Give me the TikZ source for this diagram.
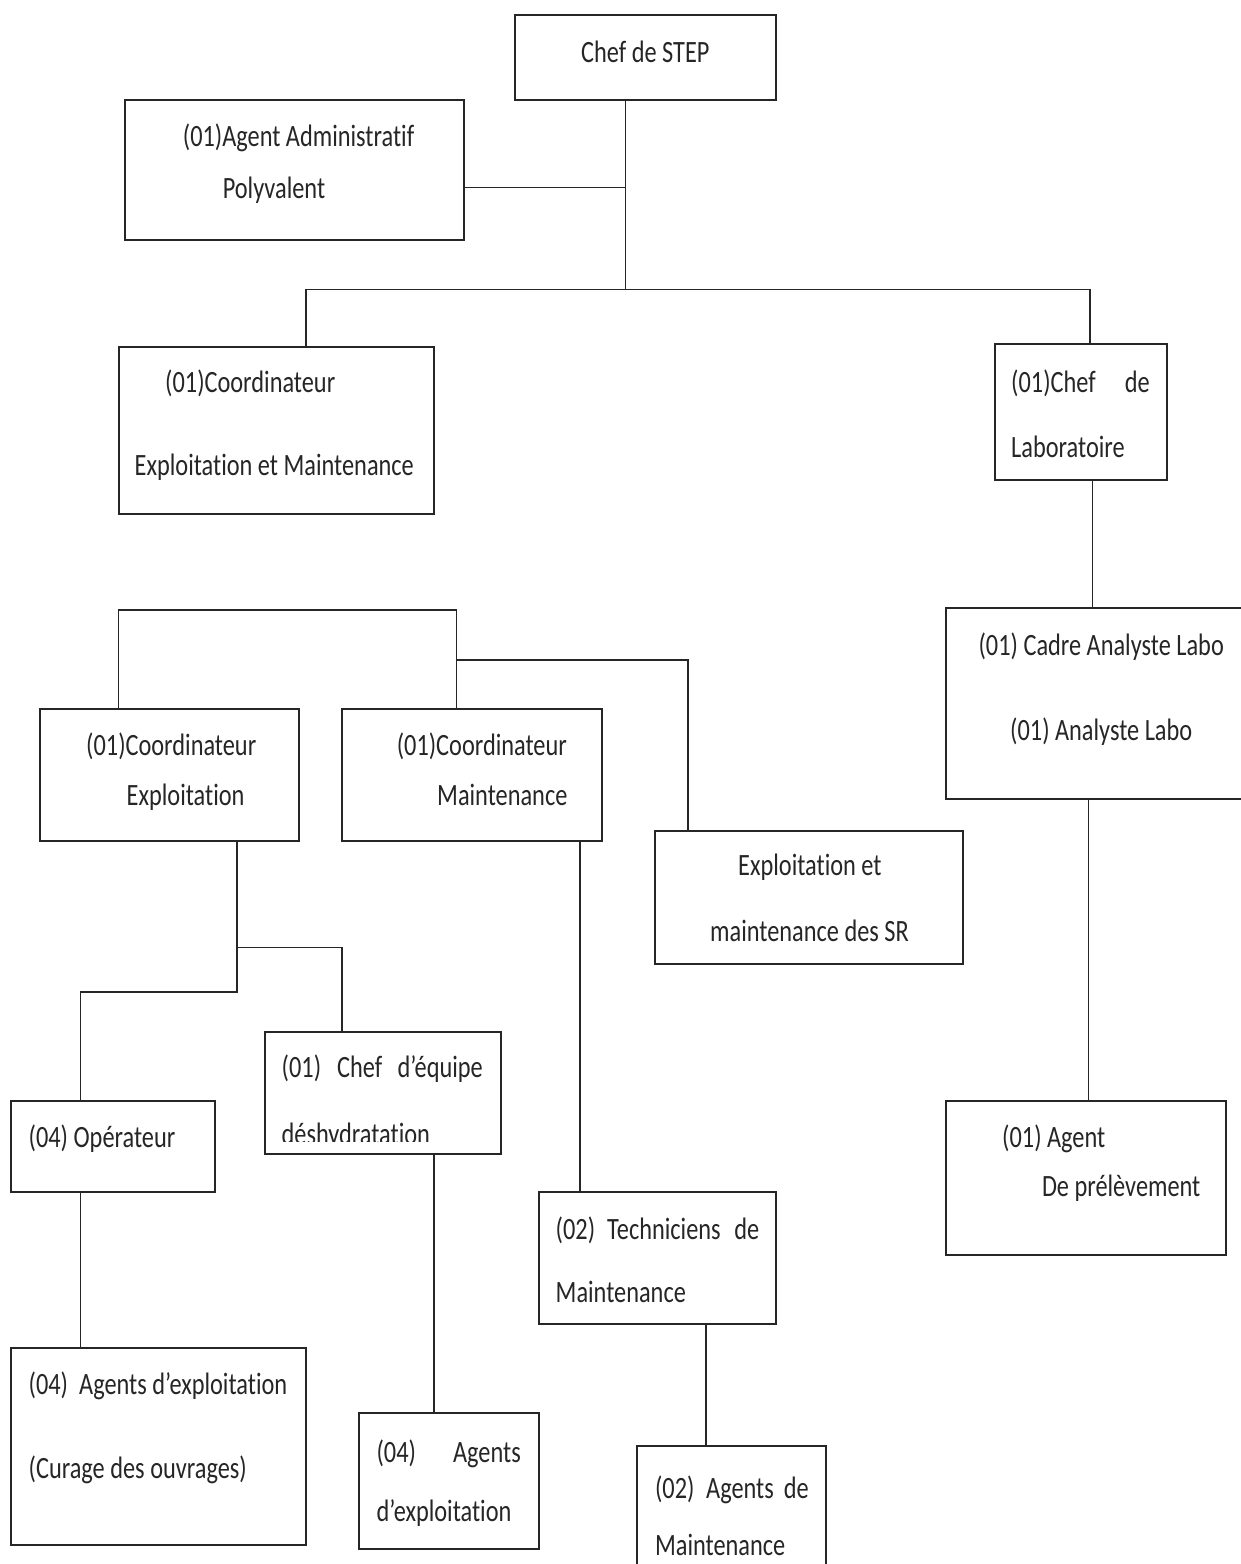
\documentclass[tikz,border=0pt]{standalone}
\usepackage{fontspec}
\setmainfont{Carlito}[FakeStretch=0.785,Ligatures={NoCommon}]
\begin{document}
\begin{tikzpicture}[x=1pt,y=-1pt,
  box/.style={draw=black!85,line width=2pt,rectangle,inner sep=0pt,outer sep=0pt,anchor=north west},
  conn/.style={draw=black!85,line width=1.5pt},
  txt/.style={font=\fontsize{31}{37}\selectfont,inner sep=0pt,anchor=base west,text=black!85},
  txtr/.style={txt,anchor=base east}]
\useasboundingbox[fill=white] (0,0) rectangle (1241,1564);
% ---- boxes ----
\node[box,minimum width=260.6pt,minimum height=85pt] (chef) at (515,15) {};
\node[box,minimum width=338.5pt,minimum height=140pt] (admin) at (125.3,100) {};
\node[box,minimum width=315pt,minimum height=167pt] (cem) at (119,347) {};
\node[box,minimum width=172pt,minimum height=136pt] (clab) at (995,344) {};
\node[box,minimum width=320pt,minimum height=191pt] (cadre) at (945.5,608) {};
\node[box,minimum width=280.5pt,minimum height=154.7pt] (prel) at (945.5,1100.7) {};
\node[box,minimum width=259.5pt,minimum height=132pt] (cexp) at (39.5,709) {};
\node[box,minimum width=260pt,minimum height=132pt] (cmain) at (342,709) {};
\node[box,minimum width=308.1pt,minimum height=133.3pt] (sr) at (654.5,830.7) {};
\node[box,minimum width=236.4pt,minimum height=121.2pt] (cheq) at (265,1032.4) {};
\node[box,minimum width=203.7pt,minimum height=91pt] (oper) at (11,1100.7) {};
\node[box,minimum width=295.4pt,minimum height=196.8pt] (curage) at (11,1348.2) {};
\node[box,minimum width=179.5pt,minimum height=136pt] (agexp) at (359,1412.6) {};
\node[box,minimum width=237.9pt,minimum height=132pt] (tech) at (538.5,1191.7) {};
\node[box,minimum width=189pt,minimum height=150pt] (agmain) at (637,1446) {};
% ---- junctions ----
\coordinate (jtop) at (625.5,289.3);
\coordinate (jadm) at (625.5,187.3);
\coordinate (busL) at (306,289.3);
\coordinate (busR) at (1090,289.3);
\coordinate (xlab) at (1092.5,540);
\coordinate (xcad) at (1088.5,900);
\coordinate (brL) at (118.6,610);
\coordinate (brR) at (456.7,610);
\coordinate (jsr) at (456.7,660);
\coordinate (ksr) at (688,660);
\coordinate (jexp) at (237,947.7);
\coordinate (kexp) at (342,947.7);
\coordinate (jop) at (237,992);
\coordinate (kop) at (80.3,992);
\coordinate (xcur) at (80.3,1250);
\coordinate (xeq) at (433.8,1300);
\coordinate (xmt) at (580,1000);
\coordinate (xtc) at (706,1400);
% ---- connectors ----
\draw[conn] (chef.south -| jtop) -- (jtop);
\draw[conn] (admin.east |- jadm) -- (jadm);
\draw[conn] (cem.north -| busL) -- (busL) -- (busR) -- (clab.north -| busR);
\draw[conn] (clab.south -| xlab) -- (cadre.north -| xlab);
\draw[conn] (cadre.south -| xcad) -- (prel.north -| xcad);
\draw[conn] (cexp.north -| brL) -- (brL) -- (brR) -- (cmain.north -| brR);
\draw[conn] (jsr) -- (ksr) -- (sr.north -| ksr);
\draw[conn] (cexp.south -| jexp) -- (jop) -- (kop) -- (oper.north -| kop);
\draw[conn] (jexp) -- (kexp) -- (cheq.north -| kexp);
\draw[conn] (oper.south -| xcur) -- (curage.north -| xcur);
\draw[conn] (cheq.south -| xeq) -- (agexp.north -| xeq);
\draw[conn] (cmain.south -| xmt) -- (tech.north -| xmt);
\draw[conn] (tech.south -| xtc) -- (agmain.north -| xtc);
% ---- texts ----
\node[txt] (t1) at (581,62.7) {Chef de STEP};
\node[txt] (t2) at (182.7,146.7) {(01)Agent Administratif};
\node[txt] (t3) at (222.6,198.3) {Polyvalent};
\node[txt] (t4) at (165,392) {(01)Coordinateur};
\node[txt] (t5) at (134.5,475) {Exploitation et Maintenance};
\node[txt] (t6) at (1011,392) {(01)Chef};
\node[txtr] (t7) at (1150,392) {de};
\node[txt] (t8) at (1011,457) {Laboratoire};
\node[txt] (t9) at (978.4,655) {(01) Cadre Analyste Labo};
\node[txt] (t10) at (1010,740) {(01) Analyste Labo};
\node[txt] (t11) at (86,755) {(01)Coordinateur};
\node[txt] (t12) at (126.5,805) {Exploitation};
\node[txt] (t13) at (396.6,755) {(01)Coordinateur};
\node[txt] (t14) at (437,805) {Maintenance};
\node[txt] (t15) at (738,875) {Exploitation et};
\node[txt] (t16) at (710,941.7) {maintenance des SR};
\node[txt] (t17) at (281.5,1077) {(01)};
\node[txt] (t18) at (337,1077) {Chef};
\node[txtr] (t19) at (483,1077) {d’équipe};
\begin{scope}
  \coordinate (cut) at (501.4,1141.5);
  \clip (cheq.north west) rectangle (cut);
  \node[txt] (t20) at (281.5,1144) {déshydratation};
\end{scope}
\node[txt] (t21) at (28.5,1147.5) {(04) Opérateur};
\node[txt] (t22) at (1002,1147.5) {(01) Agent};
\node[txt] (t23) at (1041.8,1196) {De prélèvement};
\node[txt] (t24) at (555.5,1239) {(02)};
\node[txt] (t25) at (607,1239) {Techniciens};
\node[txtr] (t26) at (759.4,1239) {de};
\node[txt] (t27) at (555.5,1302) {Maintenance};
\node[txt] (t28) at (28.5,1394) {(04)};
\node[txt] (t29) at (79,1394) {Agents d’exploitation};
\node[txt] (t30) at (28.5,1478) {(Curage des ouvrages)};
\node[txt] (t31) at (376.4,1462) {(04)};
\node[txtr] (t32) at (521,1462) {Agents};
\node[txt] (t33) at (376.4,1521.6) {d’exploitation};
\node[txt] (t34) at (654.9,1498) {(02)};
\node[txt] (t35) at (706,1498) {Agents};
\node[txtr] (t36) at (809,1498) {de};
\node[txt] (t37) at (654.9,1555.8) {Maintenance};
\end{tikzpicture}
\end{document}
